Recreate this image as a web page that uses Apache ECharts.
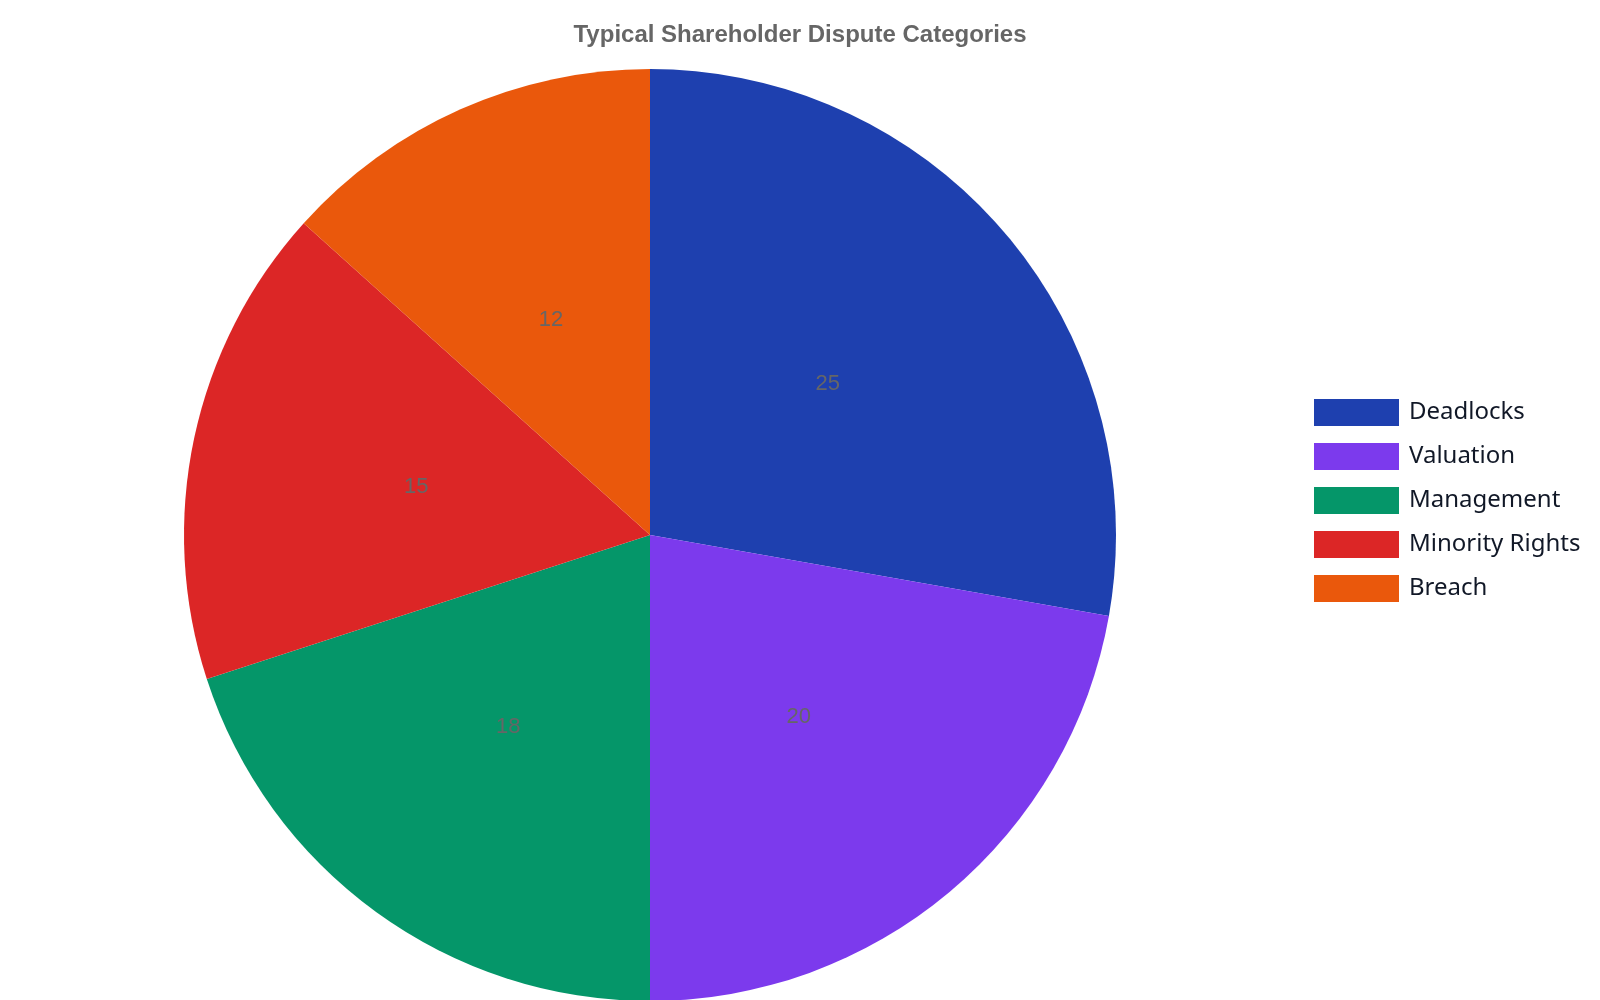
<!DOCTYPE html>
<html>
<head>
<meta charset="utf-8">
<title>Typical Shareholder Dispute Categories</title>
<script src="https://cdn.jsdelivr.net/npm/echarts@6/dist/echarts.min.js"></script>
<style>
  html, body { margin: 0; padding: 0; background: #fff; }
  #main { width: 1600px; height: 1000px; }
</style>
</head>
<body>
<div id="main"></div>
<script>
// dispute categories and counts
var categories = ['Deadlocks', 'Valuation', 'Management', 'Minority Rights', 'Breach'];
var counts = [25, 20, 18, 15, 12];
var colors = ['#1e40af', '#7c3aed', '#059669', '#dc2626', '#ea580c'];

var pieData = [];
for (var i = 0; i < categories.length; i++) {
    pieData.push({ name: categories[i], value: counts[i], itemStyle: { color: colors[i] } });
}

var myChart = echarts.init(document.getElementById('main'));
var option = {
    backgroundColor: '#ffffff',
    title: {
        text: 'Typical Shareholder Dispute Categories',
        left: 'center',
        top: 18,
        textStyle: {
            fontFamily: 'Liberation Sans, Arial, sans-serif',
            fontSize: 24,
            fontWeight: 'bold',
            color: '#666666'
        }
    },
    legend: {
        orient: 'vertical',
        left: 1309,
        top: 394,
        itemWidth: 85,
        itemHeight: 27,
        itemGap: 17,
        icon: 'rect',
        data: categories,
        textStyle: {
            fontFamily: 'Noto Sans, sans-serif',
            fontSize: 24,
            color: '#111827',
            padding: [0, 0, 0, 5]
        }
    },
    series: [
        {
            name: 'Disputes',
            type: 'pie',
            center: [650, 535],
            radius: [0, 466],
            startAngle: 90,
            clockwise: true,
            animation: false,
            label: {
                show: true,
                position: 'inside',
                formatter: '{c}',
                offset: [-3, 1],
                fontFamily: 'Liberation Sans, Arial, sans-serif',
                fontSize: 22,
                color: '#666666'
            },
            labelLine: { show: false },
            data: pieData
        }
    ]
};
myChart.setOption(option);
</script>
</body>
</html>
